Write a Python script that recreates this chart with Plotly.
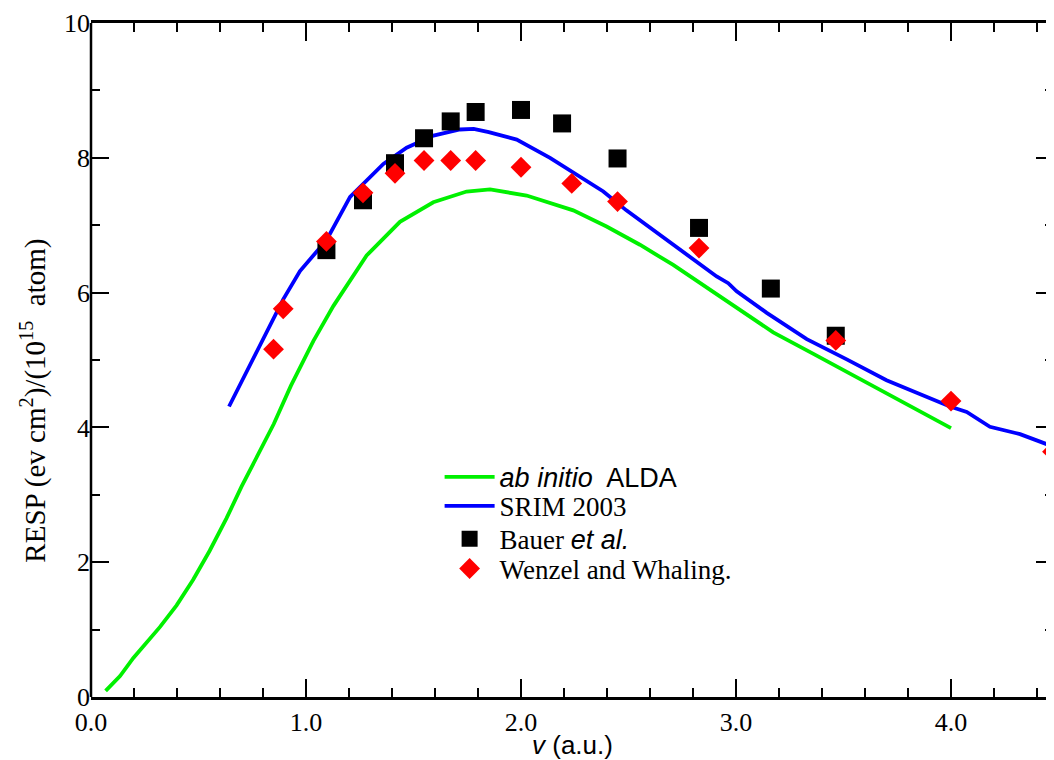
import plotly.graph_objects as go

# ab initio ALDA (green line)
alda_v = [0.068, 0.135, 0.197, 0.26, 0.321, 0.398, 0.475, 0.552, 0.63, 0.70, 0.78, 0.85, 0.93,
          1.034, 1.127, 1.282, 1.437, 1.592, 1.747, 1.856, 2.026, 2.181, 2.243, 2.398, 2.553,
          2.708, 2.864, 3.019, 3.173, 3.36, 3.515, 3.67, 3.825, 4.0]
alda_r = [0.09, 0.31, 0.58, 0.82, 1.04, 1.36, 1.74, 2.17, 2.65, 3.12, 3.62, 4.05, 4.62,
          5.28, 5.80, 6.55, 7.05, 7.34, 7.50, 7.53, 7.44, 7.29, 7.22, 6.98, 6.71,
          6.41, 6.07, 5.73, 5.41, 5.09, 4.82, 4.55, 4.28, 3.99]

# SRIM 2003 (blue line)
srim_v = [0.642, 0.74, 0.817, 0.894, 0.972, 1.096, 1.205, 1.36, 1.468, 1.593, 1.716, 1.78, 1.85,
          1.98, 2.135, 2.305, 2.352, 2.383, 2.49, 2.614, 2.66, 2.77, 2.91, 2.964, 3.003, 3.143,
          3.329, 3.515, 3.70, 3.995, 4.073, 4.181, 4.321, 4.48]
srim_r = [4.31, 4.94, 5.43, 5.90, 6.32, 6.78, 7.42, 7.91, 8.15, 8.33, 8.42, 8.43, 8.38,
          8.27, 8.00, 7.66, 7.55, 7.50, 7.22, 6.93, 6.83, 6.56, 6.24, 6.14, 6.02, 5.70,
          5.31, 5.01, 4.70, 4.31, 4.23, 4.01, 3.90, 3.71]

# Bauer et al. (black squares)
bauer_v = [1.095, 1.265, 1.414, 1.549, 1.673, 1.789, 2.0, 2.191, 2.449, 2.828, 3.162, 3.464]
bauer_r = [6.63, 7.37, 7.92, 8.29, 8.54, 8.68, 8.71, 8.51, 7.99, 6.96, 6.06, 5.36]

# Wenzel and Whaling (red diamonds)
wenzel_v = [0.849, 0.894, 1.095, 1.265, 1.414, 1.549, 1.673, 1.789, 2.0, 2.236, 2.449, 2.828,
            3.464, 4.0, 4.472]
wenzel_r = [5.16, 5.76, 6.76, 7.48, 7.77, 7.96, 7.96, 7.96, 7.86, 7.62, 7.35, 6.66,
            5.29, 4.39, 3.64]

x_ticks = [0, 1, 2, 3, 4]
x_ticklabels = ["0.0", "1.0", "2.0", "3.0", "4.0"]
y_ticks = [0, 2, 4, 6, 8, 10]

SERIF = "Liberation Serif, Times New Roman, serif"
SANS = "Liberation Sans, Arial, sans-serif"

names = [
    "<span style='font-family:Liberation Sans'><i>ab initio</i>  ALDA</span>",
    "SRIM 2003",
    "Bauer <span style='font-family:Liberation Sans'><i>et al.</i></span>",
    "Wenzel and Whaling.",
]

fig = go.Figure()
fig.add_trace(go.Scatter(x=alda_v, y=alda_r, mode="lines", name=names[0],
                         line=dict(color="#00f000", width=3.8), legend="legend"))
fig.add_trace(go.Scatter(x=srim_v, y=srim_r, mode="lines", name=names[1],
                         line=dict(color="#0000ff", width=3.8), legend="legend2"))
fig.add_trace(go.Scatter(x=bauer_v, y=bauer_r, mode="markers", name=names[2],
                         marker=dict(symbol="square", size=18, color="black", line=dict(width=0)),
                         legend="legend3"))
fig.add_trace(go.Scatter(x=wenzel_v, y=wenzel_r, mode="markers", name=names[3],
                         marker=dict(symbol="diamond", size=16, color="#ff0000", line=dict(width=0)),
                         legend="legend4"))

leg_x = 0.362
leg_common = dict(x=leg_x, xanchor="left", yanchor="middle", bgcolor="rgba(0,0,0,0)",
                  borderwidth=0, font=dict(family=SERIF, size=27, color="black"), itemwidth=50)
fig.update_layout(
    legend=dict(y=0.326, **leg_common),
    legend2=dict(y=0.283, **leg_common),
    legend3=dict(y=0.234, **leg_common),
    legend4=dict(y=0.190, **leg_common),
)

axis_common = dict(
    ticks="inside", tickcolor="black", tickwidth=1.5, ticklen=18,
    mirror="ticks", showgrid=False, zeroline=False, automargin=False,
    ticklabeloverflow="allow",
    tickfont=dict(family=SERIF, size=26, color="black"),
)

fig.update_layout(
    template="none",
    width=1046, height=752,
    margin=dict(l=83, r=0, t=15, b=63),
    paper_bgcolor="white", plot_bgcolor="white",
    showlegend=True,
    xaxis=dict(range=[0, 4.479], tickvals=x_ticks, ticktext=x_ticklabels,
               showline=True, linecolor="black", linewidth=2.5,
               minor=dict(ticks="inside", dtick=0.2, ticklen=9, tickwidth=1.5, tickcolor="black"),
               title=dict(text="<i>v</i> (a.u.)", font=dict(family=SANS, size=26, color="black"),
                          standoff=5),
               **axis_common),
    yaxis=dict(range=[0, 10], tickvals=y_ticks,
               showline=False,
               minor=dict(ticks="inside", dtick=1, ticklen=9, tickwidth=1.5, tickcolor="black"),
               **axis_common),
    shapes=[dict(type="line", xref="paper", yref="paper", x0=0, x1=0, y0=0, y1=1,
                 line=dict(color="black", width=2.5), layer="above")],
    annotations=[dict(text="RESP (ev cm<sup>2</sup>)/(10<sup>15</sup>  atom)",
                      xref="paper", yref="paper", x=-0.06, y=0.44,
                      xanchor="center", yanchor="middle", textangle=-90, showarrow=False,
                      font=dict(family=SERIF, size=29, color="black"))],
)

fig.write_html("out.html")
